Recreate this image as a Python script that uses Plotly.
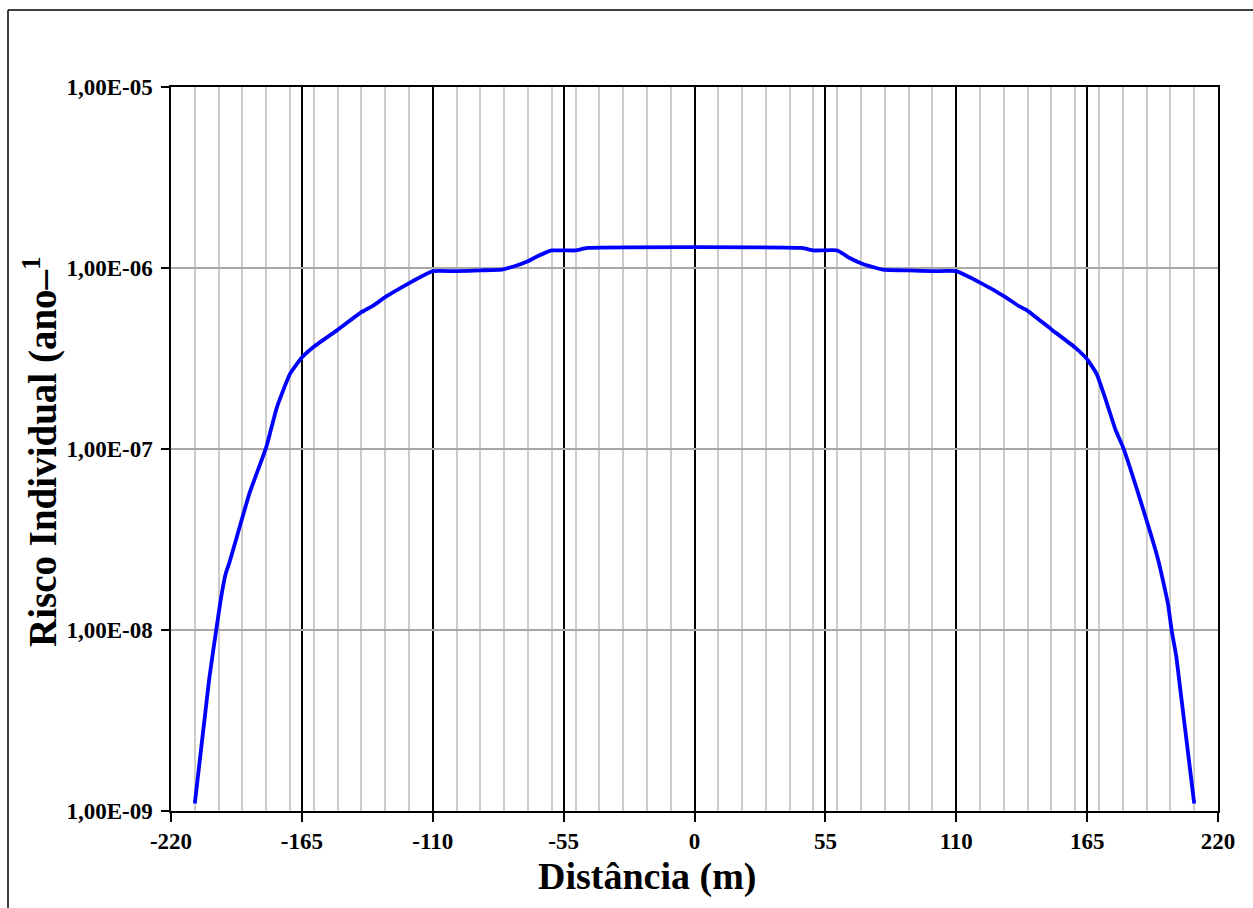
import plotly.graph_objects as go

# Distance (m) and individual risk (per year)
distancia = [-210, -204, -201, -199, -197, -195.5, -187, -180, -175.5, -170,
             -165, -160, -150, -140, -135, -130, -121, -110, -100, -90,
             -81, -76, -70, -66, -60, -50, -45, 45, 50, 60,
             65, 71, 79, 90, 100, 110, 120, 130, 136, 140,
             150, 160, 165, 169, 173, 177, 180, 187, 195, 199,
             200.5, 202.5, 210]
risco = [1.1e-9, 5.3e-9, 1.0e-8, 1.5e-8, 2.05e-8, 2.35e-8, 5.7e-8, 1.02e-7, 1.7e-7, 2.6e-7,
         3.2e-7, 3.67e-7, 4.55e-7, 5.7e-7, 6.2e-7, 6.9e-7, 8.1e-7, 9.6e-7, 9.6e-7, 9.7e-7,
         9.8e-7, 1.02e-6, 1.09e-6, 1.16e-6, 1.25e-6, 1.25e-6, 1.29e-6, 1.29e-6, 1.25e-6, 1.25e-6,
         1.14e-6, 1.05e-6, 9.8e-7, 9.7e-7, 9.6e-7, 9.6e-7, 8.3e-7, 7.0e-7, 6.2e-7, 5.8e-7,
         4.58e-7, 3.63e-7, 3.13e-7, 2.6e-7, 1.84e-7, 1.27e-7, 1.03e-7, 5.4e-8, 2.4e-8, 1.39e-8,
         1.0e-8, 7.1e-9, 1.1e-9]

x_ticks = [-220, -165, -110, -55, 0, 55, 110, 165, 220]
y_ticks = [1e-9, 1e-8, 1e-7, 1e-6, 1e-5]
y_ticktext = ["1,00E-09", "1,00E-08", "1,00E-07", "1,00E-06", "1,00E-05"]

x_title = "Distância (m)"
y_title = "Risco Individual (ano–<sup>1</sup>"

FONT = "Liberation Serif, Times New Roman, serif"

fig = go.Figure()
fig.add_trace(go.Scatter(
    x=distancia, y=risco, mode="lines",
    line=dict(color="#0000FF", width=3.8, shape="spline", smoothing=0.4),
    showlegend=False, hoverinfo="skip",
))

fig.update_layout(
    width=1253, height=908,
    margin=dict(l=171, r=35, t=87, b=97),
    paper_bgcolor="white", plot_bgcolor="white",
    font=dict(family=FONT, color="black"),
)

fig.update_xaxes(
    range=[-220, 220],
    tickmode="array", tickvals=x_ticks, ticktext=[str(v) for v in x_ticks],
    tickfont=dict(family=FONT, size=23, color="black", weight="bold"),
    ticks="outside", ticklen=9, tickwidth=1.5, tickcolor="black",
    showgrid=True, gridcolor="black", gridwidth=1.5,
    minor=dict(tick0=-220, dtick=10, showgrid=True, gridcolor="#cccccc", gridwidth=2, ticks=""),
    showline=True, linecolor="black", linewidth=1.5, mirror=True,
    zeroline=False,
)

fig.update_yaxes(
    type="log", range=[-9, -5],
    tickmode="array", tickvals=y_ticks, ticktext=y_ticktext,
    tickfont=dict(family=FONT, size=23, color="black", weight="bold"),
    ticks="outside", ticklen=8, tickwidth=1.5, tickcolor="black",
    ticklabelstandoff=4,
    showgrid=True, gridcolor="#a8a8a8", gridwidth=2,
    showline=True, linecolor="black", linewidth=1.5, mirror=True,
    zeroline=False,
)

# Axis titles as annotations (positioned as in the reference)
fig.add_annotation(
    text="<b>" + x_title + "</b>", xref="paper", yref="paper",
    x=(647 - 171) / 1047, y=-(876 - 811) / 724,
    xanchor="center", yanchor="middle", showarrow=False,
    font=dict(family=FONT, size=38, color="black"),
)
fig.add_annotation(
    text="<b>" + y_title + "</b>", xref="paper", yref="paper",
    x=-(171 - 40) / 1047, y=(811 - 452) / 724,
    xanchor="center", yanchor="middle", showarrow=False, textangle=-90,
    font=dict(family=FONT, size=39, color="black"),
)

# Outer frame (top and left edges visible in the reference)
fig.add_shape(type="line", xref="paper", yref="paper",
              x0=-(171 - 8) / 1047, x1=(1260 - 171) / 1047,
              y0=(811 - 10) / 724, y1=(811 - 10) / 724,
              line=dict(color="black", width=1.5))
fig.add_shape(type="line", xref="paper", yref="paper",
              x0=-(171 - 8) / 1047, x1=-(171 - 8) / 1047,
              y0=(811 - 10) / 724, y1=-(920 - 811) / 724,
              line=dict(color="black", width=1.5))

fig.write_html("out.html")
